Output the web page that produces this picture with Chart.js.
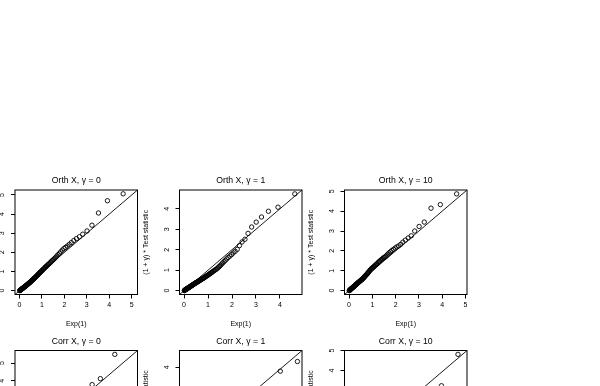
<!DOCTYPE html>
<html><head><meta charset="utf-8">
<script src="https://cdn.jsdelivr.net/npm/chart.js@4"></script>
<style>
html,body{margin:0;padding:0;background:#fff;overflow:hidden;width:600px;height:386px;position:relative;}
canvas{position:absolute;}
</style></head><body>
<script>
// Theoretical Exp(1) quantiles shared by every panel (x axis)
const expQuantiles = [0.01,0.02,0.03,0.04,0.05,0.06,0.07,0.08,0.09,0.10,
0.12,0.13,0.14,0.15,0.16,0.17,0.18,0.20,0.21,0.22,
0.23,0.25,0.26,0.27,0.28,0.30,0.31,0.32,0.34,0.35,
0.37,0.38,0.40,0.41,0.43,0.44,0.46,0.47,0.49,0.50,
0.52,0.54,0.55,0.57,0.59,0.61,0.63,0.64,0.66,0.68,
0.70,0.72,0.74,0.77,0.79,0.81,0.83,0.85,0.88,0.90,
0.93,0.95,0.98,1.00,1.03,1.06,1.09,1.12,1.15,1.18,
1.21,1.25,1.28,1.32,1.36,1.40,1.44,1.48,1.52,1.57,
1.62,1.67,1.72,1.78,1.84,1.91,1.98,2.05,2.13,2.22,
2.31,2.42,2.54,2.67,2.82,3.01,3.23,3.52,3.92,4.62];

// Sorted (1+gamma)*test statistic, orthogonal X
const orthGamma0 = [0.00,0.01,0.02,0.03,0.04,0.05,0.06,0.07,0.08,0.09,
0.10,0.11,0.12,0.13,0.14,0.15,0.16,0.18,0.19,0.20,
0.21,0.22,0.23,0.24,0.25,0.27,0.28,0.29,0.31,0.32,
0.34,0.35,0.37,0.38,0.40,0.41,0.43,0.44,0.46,0.47,
0.49,0.51,0.53,0.55,0.57,0.59,0.61,0.63,0.65,0.67,
0.69,0.72,0.74,0.77,0.80,0.82,0.85,0.87,0.91,0.93,
0.96,0.99,1.02,1.05,1.08,1.12,1.15,1.19,1.22,1.26,
1.29,1.33,1.37,1.41,1.45,1.50,1.55,1.59,1.63,1.69,
1.75,1.81,1.88,1.95,2.03,2.12,2.20,2.26,2.33,2.42,
2.51,2.62,2.72,2.82,2.95,3.12,3.42,4.06,4.70,5.06];

const orthGamma1 = [0.00,0.01,0.02,0.03,0.04,0.05,0.05,0.06,0.07,0.08,
0.09,0.10,0.11,0.12,0.12,0.13,0.14,0.15,0.16,0.17,
0.18,0.19,0.20,0.21,0.22,0.23,0.24,0.25,0.26,0.27,
0.29,0.30,0.31,0.32,0.33,0.34,0.36,0.37,0.38,0.39,
0.40,0.41,0.42,0.44,0.45,0.46,0.48,0.49,0.50,0.52,
0.53,0.55,0.56,0.58,0.60,0.61,0.63,0.64,0.67,0.68,
0.71,0.72,0.75,0.76,0.79,0.81,0.84,0.86,0.89,0.91,
0.94,0.97,1.00,1.03,1.06,1.10,1.15,1.19,1.24,1.30,
1.36,1.42,1.48,1.55,1.62,1.69,1.76,1.84,1.92,2.02,
2.20,2.38,2.51,2.80,3.11,3.35,3.60,3.88,4.08,4.73];

const orthGamma10 = [0.00,0.01,0.02,0.03,0.05,0.06,0.07,0.08,0.09,0.10,
0.12,0.13,0.14,0.15,0.16,0.17,0.18,0.20,0.21,0.22,
0.23,0.25,0.26,0.27,0.29,0.30,0.32,0.33,0.35,0.36,
0.38,0.39,0.41,0.42,0.44,0.45,0.47,0.48,0.50,0.51,
0.53,0.55,0.56,0.58,0.60,0.63,0.65,0.67,0.69,0.72,
0.74,0.77,0.80,0.83,0.86,0.89,0.92,0.95,0.99,1.02,
1.06,1.09,1.12,1.14,1.17,1.20,1.23,1.27,1.30,1.33,
1.36,1.41,1.45,1.49,1.53,1.57,1.61,1.65,1.68,1.72,
1.78,1.84,1.90,1.96,2.02,2.08,2.14,2.20,2.25,2.33,
2.44,2.54,2.65,2.76,3.00,3.23,3.45,4.15,4.33,4.87];

// Correlated X: only the largest values are visible (paired with the largest quantiles)
const corrGamma0Tail = [3.10, 3.30, 3.78, 4.12, 5.50];
const corrGamma1Tail = [2.60, 2.70, 2.95, 3.82, 4.28];
const corrGamma10Tail = [2.70, 2.85, 3.00, 3.25, 4.81];

const panelTitles = ['Orth X, \u03b3 = 0', 'Orth X, \u03b3 = 1', 'Orth X, \u03b3 = 10',
                     'Corr X, \u03b3 = 0', 'Corr X, \u03b3 = 1', 'Corr X, \u03b3 = 10'];
const axisLimits = [[-0.20, 5.26], [-0.19, 4.92], [-0.195, 5.065],
                    [-0.22, 5.72], [-0.185, 4.805], [-0.192, 5.002]];
const tickValues = [[0,1,2,3,4,5], [0,1,2,3,4], [0,1,2,3,4,5],
                    [0,1,2,3,4,5], [0,1,2,3,4], [0,1,2,3,4,5]];
const xAxisTitle = 'Exp(1)';
const yAxisTitle = '(1 + \u03b3) * Test statistic';

function pairs(ys) {
  const off = expQuantiles.length - ys.length;
  return ys.map((y, i) => ({x: expQuantiles[off + i], y: y}));
}
const panelSeries = [orthGamma0, orthGamma1, orthGamma10, corrGamma0Tail, corrGamma1Tail, corrGamma10Tail];

// ---- layout (pixels) ----
const COL_LEFT = [15, 179.5, 344.5];
const ROW_TOP = [190, 350.5];
const BOX_W = 122.5, BOX_H = 104.5;
const ML = 40, MT = 20, MR = 10, AXIS_H = 34, MB = 5;
const FAMILY = '"Liberation Sans", Arial, Helvetica, sans-serif';
const TICK_SIZE = 7, TITLE_SIZE = 8.7;

Chart.defaults.color = '#000';
Chart.defaults.font.family = FAMILY;

const boxPlugin = {
  id: 'rbox',
  afterDatasetsDraw(chart) {
    const a = chart.chartArea, ctx = chart.ctx;
    ctx.save();
    ctx.strokeStyle = '#000';
    ctx.lineWidth = 1;
    ctx.strokeRect(a.left, a.top, a.right - a.left, a.bottom - a.top);
    ctx.restore();
  }
};

for (let p = 0; p < 6; p++) {
  const col = p % 3, row = Math.floor(p / 3);
  const boxLeft = COL_LEFT[col], boxTop = ROW_TOP[row];
  const cLeft = Math.floor(boxLeft - ML), cTop = Math.floor(boxTop - MT);
  const mlEff = boxLeft - cLeft, mtEff = boxTop - cTop;
  const cw = Math.ceil(mlEff + BOX_W + MR), ch = Math.ceil(mtEff + BOX_H + AXIS_H + MB);
  const canvas = document.createElement('canvas');
  canvas.width = cw; canvas.height = ch;
  canvas.style.left = cLeft + 'px'; canvas.style.top = cTop + 'px';
  canvas.style.width = cw + 'px'; canvas.style.height = ch + 'px';
  document.body.appendChild(canvas);

  const [lo, hi] = axisLimits[p];
  const ticks = tickValues[p];
  const tickFont = {family: FAMILY, size: TICK_SIZE};
  const tickLH = TICK_SIZE * 1.2;
  const titleLH = TITLE_SIZE * 1.2;
  const titlePadBottom = 9 - titleLH / 2;
  const titleH = titleLH + titlePadBottom;
  const rightPad = cw - mlEff - BOX_W;
  const bottomPad = ch - mtEff - BOX_H - AXIS_H;
  const yTitlePad = mlEff - 33 - tickLH / 2;

  const setTicks = (s) => { s.ticks = ticks.map(v => ({value: v})); };
  const gridOpts = {display: true, drawOnChartArea: false, drawTicks: true, tickLength: 4, color: '#000', lineWidth: 1};

  new Chart(canvas, {
    type: 'scatter',
    data: {
      datasets: [
        {data: pairs(panelSeries[p]), pointStyle: 'circle', pointRadius: 2.2, borderColor: '#000',
         backgroundColor: 'rgba(0,0,0,0)', borderWidth: 0.9, order: 1},
        {type: 'line', data: [{x: lo, y: lo}, {x: hi, y: hi}], borderColor: '#000', borderWidth: 0.9,
         pointRadius: 0, fill: false, order: 2}
      ]
    },
    options: {
      responsive: false, animation: false, devicePixelRatio: 1,
      layout: {padding: {top: mtEff - titleH, left: 0, right: rightPad, bottom: bottomPad}},
      plugins: {
        legend: {display: false}, tooltip: {enabled: false},
        title: {display: true, text: panelTitles[p], fullSize: false, color: '#000',
                font: {family: FAMILY, size: TITLE_SIZE, weight: 'normal'},
                padding: {top: 0, bottom: titlePadBottom}}
      },
      scales: {
        x: {type: 'linear', position: 'bottom', min: lo, max: hi,
            afterBuildTicks: setTicks, afterFit: (s) => { s.height = AXIS_H; },
            grid: gridOpts, border: {display: false},
            ticks: {font: tickFont, color: '#000', padding: 11 - 4 - tickLH / 2, maxRotation: 0, autoSkip: false},
            title: {display: true, text: xAxisTitle, color: '#000', font: tickFont, padding: {top: 0, bottom: 0}}},
        y: {type: 'linear', position: 'left', min: lo, max: hi,
            afterBuildTicks: setTicks, afterFit: (s) => { s.width = mlEff; },
            grid: gridOpts, border: {display: false},
            ticks: {font: tickFont, color: '#000', padding: 6.5, minRotation: 90, maxRotation: 90,
                    crossAlign: 'center', autoSkip: false},
            title: {display: true, text: yAxisTitle, color: '#000', font: tickFont, padding: {top: yTitlePad, bottom: 0}}}
      }
    },
    plugins: [boxPlugin]
  });
}
</script>
</body></html>
